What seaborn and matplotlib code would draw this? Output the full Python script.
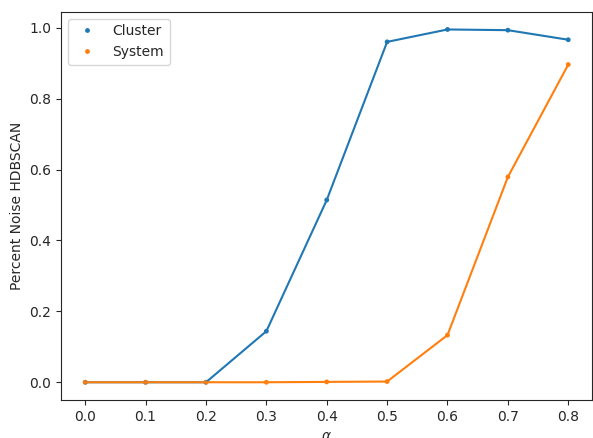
import matplotlib
matplotlib.use("Agg")
from matplotlib import pyplot as plt
import seaborn as sns
import pandas as pd

alphas = [0.0, 0.1, 0.2, 0.3, 0.4, 0.5, 0.6, 0.7, 0.8]
cluster_noise = [0.0, 0.0, 0.0, 0.144, 0.514, 0.960, 0.995, 0.993, 0.966]
system_noise = [0.0, 0.0, 0.0, 0.0, 0.001, 0.002, 0.133, 0.579, 0.896]

df = pd.DataFrame({
    "alpha": alphas * 2,
    "noise": cluster_noise + system_noise,
    "level": ["Cluster"] * len(alphas) + ["System"] * len(alphas),
})

sns.set_style("ticks")
plt.rcParams["font.family"] = ["DejaVu Sans"]

fig, ax = plt.subplots(figsize=(5.93, 4.38), dpi=100)
fig.subplots_adjust(left=0.103, right=0.999, top=0.973, bottom=0.087)

palette = ["#1f77b4", "#ff7f0e"]
sns.scatterplot(data=df, x="alpha", y="noise", hue="level", palette=palette,
                s=12, edgecolor=None, linewidth=0, ax=ax)
sns.lineplot(data=df, x="alpha", y="noise", hue="level", palette=palette,
             legend=False, linewidth=1.5, ax=ax)

ax.set_xlabel(r"$\alpha$")
ax.set_ylabel("Percent Noise HDBSCAN")
ax.legend(loc="upper left", title=None)

fig.savefig("out.png", dpi=100)
